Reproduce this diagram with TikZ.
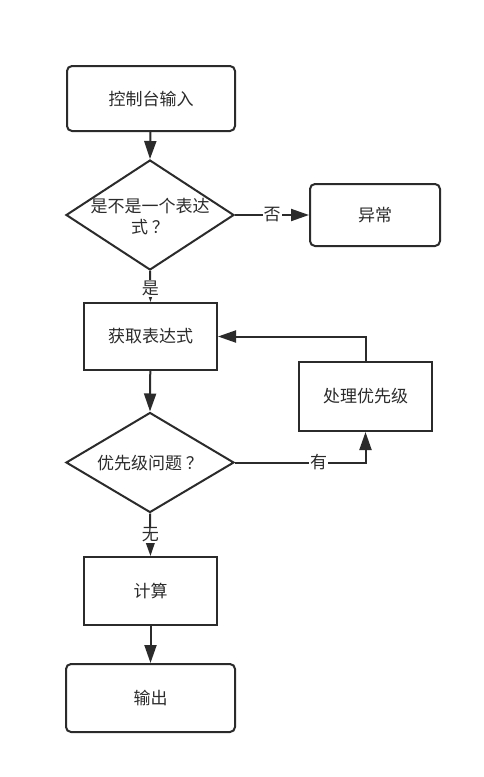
\documentclass[tikz,border=0pt]{standalone}
\usepackage{fontspec}
\setmainfont{Noto Sans CJK SC}
\usetikzlibrary{shapes.geometric,arrows.meta}
\definecolor{ink}{HTML}{2B2B2B}
\begin{document}
\begin{tikzpicture}[x=1pt,y=-1pt,
  font=\fontsize{17}{21}\selectfont,
  every node/.style={text=ink},
  base/.style={draw=ink,line width=2pt,inner sep=0pt,fill=white},
  roundbox/.style={base,rounded corners=5pt},
  sharpbox/.style={base},
  decision/.style={base,diamond},
  conn/.style={draw=ink,line width=2pt,-{Triangle[length=18pt,width=12pt]}},
  lbl/.style={fill=white,inner sep=1pt}]
\useasboundingbox[fill=white] (0,0) rectangle (484,777);
\node[roundbox,minimum width=168pt,minimum height=65pt] (in) at (151,98.5) {控制台输入};
\node[decision,minimum width=168pt,minimum height=110pt] (d1) at (150,215) {};
\node[align=center,inner sep=0pt] (d1t) at (150,217) {是不是一个表达\\式 ？};
\node[roundbox,minimum width=130pt,minimum height=62pt] (no) at (375,215) {异常};
\node[sharpbox,minimum width=133pt,minimum height=67pt] (get) at (150.5,336.5) {获取表达式};
\node[sharpbox,minimum width=133pt,minimum height=69pt] (pri) at (365.5,396.5) {处理优先级};
\node[decision,minimum width=168pt,minimum height=100pt] (d2) at (150,462.5) {};
\node[inner sep=0pt] (d2t) at (150,463) {优先级问题 ？};
\node[sharpbox,minimum width=133pt,minimum height=68pt] (calc) at (150.5,591) {计算};
\node[roundbox,minimum width=169pt,minimum height=68pt] (out) at (150.5,698) {输出};

\draw[conn] (in) -- (d1.north);
\draw[conn] (d1.east) -- node[lbl] {否} (no.west);
\draw[conn] (d1.south) -- node[lbl,pos=0.55] {是} (get.north);
\draw[conn] (get) -- (d2.north);
\draw[conn] (d2.east) -| node[lbl,pos=0.32] {有} (pri.south);
\draw[conn] (pri.north) |- (get.east);
\draw[conn] (d2.south) -- node[lbl] {无} (calc.north);
\draw[conn] (calc) -- (out);
\end{tikzpicture}
\end{document}
